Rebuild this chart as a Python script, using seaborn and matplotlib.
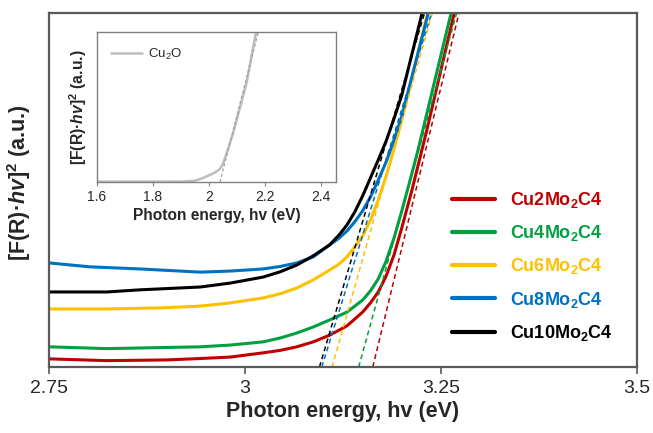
import matplotlib
matplotlib.use("Agg")
import matplotlib.pyplot as plt
from matplotlib.lines import Line2D
import seaborn as sns
import pandas as pd

# ---- Tauc-plot data (photon energy in eV, [F(R)hv]^2 in arbitrary units) ----
series_names = ["Cu2Mo2C4", "Cu4Mo2C4", "Cu6Mo2C4", "Cu8Mo2C4", "Cu10Mo2C4"]
legend_labels = [r"Cu2Mo$_\mathbf{2}$C4", r"Cu4Mo$_\mathbf{2}$C4", r"Cu6Mo$_\mathbf{2}$C4",
                 r"Cu8Mo$_\mathbf{2}$C4", r"Cu10Mo$_\mathbf{2}$C4"]
series_colors = ["#C00000", "#00A040", "#FFC000", "#0070C0", "#000000"]

cu2_energy = [2.75, 2.824, 2.90, 2.943, 2.981, 3.023, 3.045, 3.066, 3.087, 3.108, 3.130, 3.150,
              3.160, 3.170, 3.180, 3.190, 3.200, 3.213, 3.232, 3.268]
cu2_signal = [2.3, 1.8, 2.0, 2.4, 2.8, 4.0, 4.7, 5.7, 7.1, 9.0, 11.6, 15.5,
              18.1, 21.2, 25.7, 31.6, 39.3, 50.0, 67.0, 101.0]

cu4_energy = [2.75, 2.824, 2.943, 2.981, 3.023, 3.045, 3.066, 3.087, 3.108, 3.130, 3.140,
              3.150, 3.160, 3.170, 3.180, 3.190, 3.200, 3.210, 3.220, 3.229, 3.264]
cu4_signal = [5.7, 5.2, 5.7, 6.2, 7.1, 8.2, 9.6, 11.3, 13.3, 15.5, 17.2,
              18.9, 21.5, 24.9, 29.9, 36.4, 44.1, 52.3, 60.7, 68.9, 101.0]

cu6_energy = [2.75, 2.824, 2.892, 2.943, 2.981, 3.023, 3.045, 3.066, 3.087, 3.108, 3.120,
              3.130, 3.140, 3.150, 3.160, 3.170, 3.180, 3.190, 3.200, 3.234]
cu6_signal = [16.4, 16.4, 16.7, 17.2, 18.1, 19.5, 20.7, 22.3, 24.6, 27.4, 29.1,
              31.1, 33.9, 37.0, 41.5, 47.2, 53.9, 61.6, 69.8, 101.0]

cu8_energy = [2.75, 2.802, 2.866, 2.943, 2.981, 3.023, 3.045, 3.066, 3.087, 3.108, 3.120,
              3.130, 3.140, 3.150, 3.160, 3.170, 3.180, 3.190, 3.200, 3.235]
cu8_signal = [29.4, 28.3, 27.7, 26.8, 27.1, 27.7, 28.4, 29.4, 31.1, 34.5, 36.4,
              38.4, 41.0, 44.1, 48.0, 52.8, 57.9, 64.1, 70.9, 101.0]

cu10_energy = [2.75, 2.824, 2.866, 2.943, 2.981, 3.023, 3.045, 3.066, 3.087, 3.108, 3.120,
               3.130, 3.140, 3.150, 3.160, 3.170, 3.180, 3.190, 3.200, 3.227]
cu10_signal = [21.2, 21.2, 21.8, 22.6, 23.7, 25.4, 26.9, 28.8, 31.4, 34.5, 37.3,
               40.1, 43.8, 48.3, 53.4, 58.5, 63.8, 70.1, 76.8, 101.0]

# linear band-edge extrapolations: energy at signal 0 and at signal 100
fit_energy_low = [3.163, 3.145, 3.111, 3.098, 3.095]
fit_energy_high = [3.273, 3.270, 3.239, 3.238, 3.229]
fit_signal = [0.0, 100.0]

# inset: reference Cu2O
cu2o_energy = [1.599, 1.900, 1.944, 1.968, 2.004, 2.025, 2.040, 2.050, 2.064, 2.087, 2.135, 2.170]
cu2o_signal = [0.2, 0.3, 0.7, 1.8, 4.7, 6.6, 8.8, 11.8, 19.1, 32.4, 65.8, 101.0]
cu2o_fit_energy = [2.040, 2.177]

main_xticks = [2.75, 3.0, 3.25, 3.5]
main_xticklabels = ["2.75", "3", "3.25", "3.5"]
inset_xticks = [1.6, 1.8, 2.0, 2.2, 2.4]
inset_xticklabels = ["1.6", "1.8", "2", "2.2", "2.4"]

# ---- styling ----
sns.set_style("white")
plt.rcParams["font.family"] = ["Liberation Sans", "DejaVu Sans"]
plt.rcParams["mathtext.fontset"] = "custom"
plt.rcParams["mathtext.rm"] = "Liberation Sans"
plt.rcParams["mathtext.it"] = "Liberation Sans:italic"
plt.rcParams["mathtext.bf"] = "Liberation Sans:bold"
plt.rcParams["mathtext.bfit"] = "Liberation Sans:bold:italic"

spine_color = "#595959"

energies = [cu2_energy, cu4_energy, cu6_energy, cu8_energy, cu10_energy]
signals = [cu2_signal, cu4_signal, cu6_signal, cu8_signal, cu10_signal]

curves = pd.concat(
    [pd.DataFrame({"energy": e, "signal": s, "sample": n})
     for e, s, n in zip(energies, signals, series_names)],
    ignore_index=True)
fits = pd.concat(
    [pd.DataFrame({"energy": [lo, hi], "signal": fit_signal, "sample": n})
     for lo, hi, n in zip(fit_energy_low, fit_energy_high, series_names)],
    ignore_index=True)
palette = dict(zip(series_names, series_colors))

fig = plt.figure(figsize=(6.53, 4.33), dpi=100)
ax = fig.add_axes([0.0750, 0.1524, 0.9005, 0.8176])

sns.lineplot(data=curves, x="energy", y="signal", hue="sample", palette=palette,
             hue_order=series_names, sort=False, estimator=None, linewidth=2.2,
             legend=False, ax=ax)
sns.lineplot(data=fits, x="energy", y="signal", hue="sample", palette=palette,
             hue_order=series_names, sort=False, estimator=None, linewidth=1.1,
             dashes=False, legend=False, ax=ax)
for ln in ax.lines[:len(series_names)]:
    ln.set_solid_joinstyle("round")
for ln in ax.lines[len(series_names):]:
    ln.set_dashes((3.2, 2.2))

ax.set_xlim(2.75, 3.5)
ax.set_ylim(0, 100)
ax.set_xticks(main_xticks)
ax.set_xticklabels(main_xticklabels)
ax.set_yticks([])
ax.tick_params(axis="x", direction="out", length=5, width=1.2, color=spine_color,
               labelsize=14, pad=4, bottom=True)
for sp in ax.spines.values():
    sp.set_color(spine_color)
    sp.set_linewidth(1.6)
ax.set_xlabel("Photon energy, hv (eV)", fontsize=15.5, fontweight="bold", labelpad=3)
ax.set_ylabel(r"[F(R)·$\mathbfit{hv}$]$^\mathbf{2}$ (a.u.)", fontsize=15.5,
              fontweight="bold")
ax.yaxis.set_label_coords(-0.027, 0.52)

handles = [Line2D([0], [0], color=c, lw=3.0) for c in series_colors]
leg = ax.legend(handles, legend_labels, loc="center left", bbox_to_anchor=(0.685, 0.284),
                frameon=False, fontsize=13, handlelength=2.4, handletextpad=0.85,
                labelspacing=0.73, borderpad=0, borderaxespad=0)
for txt, c in zip(leg.get_texts(), series_colors):
    txt.set_color(c)
    txt.set_fontweight("bold")

# ---- inset: Cu2O ----
inset = fig.add_axes([0.1485, 0.5797, 0.366, 0.3464])
sns.lineplot(x=cu2o_energy, y=cu2o_signal, color="#BDBDBD", linewidth=1.8,
             sort=False, estimator=None, ax=inset, label=r"Cu$_2$O")
sns.lineplot(x=cu2o_fit_energy, y=fit_signal, color="#A0A0A0", linewidth=0.9,
             sort=False, estimator=None, ax=inset)
inset.lines[1].set_dashes((2.5, 1.8))
inset.set_xlim(1.6, 2.455)
inset.set_ylim(0, 100)
inset.set_xticks(inset_xticks)
inset.set_xticklabels(inset_xticklabels)
inset.set_yticks([])
inset.tick_params(axis="x", direction="out", length=3, width=0.8, color="#808080",
                  labelsize=10, pad=3, bottom=True)
for sp in inset.spines.values():
    sp.set_color("#808080")
    sp.set_linewidth(1.0)
inset.set_xlabel("Photon energy, hv (eV)", fontsize=11.2, fontweight="bold", labelpad=3)
inset.set_ylabel(r"[F(R)·$\mathbfit{hv}$]$^\mathbf{2}$ (a.u.)", fontsize=11.3,
                 fontweight="bold", labelpad=6)
inset.legend(loc="upper left", frameon=False, fontsize=9.5, handlelength=2.3,
             handletextpad=0.5, borderpad=0.3, borderaxespad=0.8)

fig.savefig("out.png", dpi=100)
